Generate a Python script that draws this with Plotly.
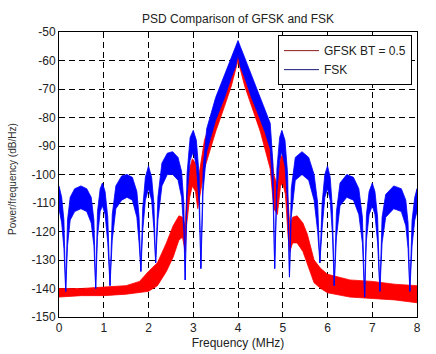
import plotly.graph_objects as go

# ---- data ----
# FSK PSD envelope (MHz, upper dB/Hz, lower dB/Hz)
fsk_f = [0.00, 0.06, 0.11, 0.15, 0.19, 0.25, 0.35, 0.49, 0.62, 0.72, 0.78, 0.82, 0.86, 0.92,
         0.97, 1.03, 1.09, 1.14, 1.19, 1.27, 1.40, 1.52, 1.64, 1.74, 1.79, 1.83, 1.87, 1.93,
         2.00, 2.07, 2.12, 2.16, 2.21, 2.30, 2.42, 2.54, 2.66, 2.74, 2.79, 2.82, 2.86, 2.93,
         3.00, 3.07, 3.13, 3.17, 3.22, 3.30, 3.50, 3.70, 3.85, 3.95, 4.00, 4.05, 4.15, 4.30,
         4.43, 4.60, 4.72, 4.78, 4.82, 4.87, 4.93, 4.98, 5.05, 5.11, 5.15, 5.19, 5.28, 5.43,
         5.58, 5.70, 5.78, 5.83, 5.88, 5.94, 6.00, 6.06, 6.11, 6.15, 6.20, 6.28, 6.43, 6.58,
         6.70, 6.78, 6.83, 6.87, 6.93, 7.00, 7.06, 7.12, 7.17, 7.22, 7.30, 7.48, 7.65, 7.75,
         7.80, 7.84, 7.89, 7.95, 8.00]
fsk_hi = [-104, -108, -116, -141, -116, -108, -105, -104, -105, -108, -116, -140, -113, -105,
          -103, -106, -115, -139, -114, -104, -100.5, -100, -101, -106, -115, -134, -112, -101,
          -97, -101, -110, -131, -108, -96, -92.5, -92, -94, -99, -110, -137, -100, -87,
          -84.5, -88, -100, -133, -98, -84, -73, -65, -59, -55, -53, -55, -59, -65,
          -70, -77, -82, -96, -133, -98, -87, -84.5, -88, -100, -136, -105, -94, -92,
          -94, -100, -110, -131, -110, -100, -97, -101, -112, -139, -113, -103, -100, -101,
          -105, -115, -143, -114, -106, -103, -106, -115, -141, -115, -107, -104, -105, -109,
          -117, -141, -116, -108, -105]
fsk_lo = [-112, -117, -126, -141, -125, -116, -113, -112, -113, -117, -125, -140, -122, -113,
          -111, -114, -124, -139, -123, -112, -109, -108, -109, -115, -124, -134, -120, -109,
          -105, -109, -119, -131, -116, -104, -100, -100, -102, -108, -120, -137, -108, -95,
          -92, -97, -110, -133, -106, -92, -81, -73, -66, -62, -58, -62, -66, -73,
          -78, -85, -91, -106, -133, -106, -95, -92, -97, -110, -136, -115, -102, -100,
          -102, -109, -120, -131, -119, -108, -105, -109, -121, -139, -122, -111, -108, -109,
          -114, -124, -143, -123, -114, -111, -114, -124, -141, -124, -115, -112, -113, -118,
          -126, -141, -125, -116, -113]

# GFSK BT = 0.5 PSD envelope
gfsk_f = [0.00, 0.50, 1.00, 1.50, 1.80, 2.00, 2.20, 2.40, 2.55, 2.68, 2.76, 2.82, 2.85, 2.92,
          2.98, 3.05, 3.10, 3.15, 3.25, 3.50, 3.70, 3.85, 3.95, 4.00, 4.05, 4.15, 4.30, 4.50,
          4.72, 4.80, 4.88, 4.95, 5.00, 5.06, 5.12, 5.16, 5.22, 5.32, 5.45, 5.55, 5.70, 5.85,
          6.00, 6.50, 7.00, 7.50, 8.00]
gfsk_hi = [-140, -140, -139.5, -139, -137.5, -134, -131, -124, -118, -114.5, -115, -118, -108, -98,
           -94.5, -96, -102, -98, -88, -76, -67, -61, -57, -55.5, -57, -61, -67, -76,
           -88, -100, -104, -94, -93, -97, -112, -118, -115, -114.5, -117, -121, -130, -133,
           -135, -137, -137.5, -138.5, -139]
gfsk_lo = [-143, -142.5, -142.5, -142, -141.5, -141, -139, -134, -129, -123, -122, -127, -118, -108,
           -104, -106, -112, -108, -98, -85, -76, -69, -63, -60, -63, -69, -76, -85,
           -98, -112, -114, -104, -103, -107, -122, -127, -124, -124, -127, -131, -138, -140,
           -141.5, -143, -143.5, -144, -145]

series_names = ["GFSK BT = 0.5", "FSK"]
series_colors = ["#ff0000", "#0000ff"]
legend_colors = ["#8b1a1a", "#1a1a7a"]

x_ticks = [0, 1, 2, 3, 4, 5, 6, 7, 8]
y_ticks = [-150, -140, -130, -120, -110, -100, -90, -80, -70, -60, -50]

FONT = "Arial, Liberation Sans, sans-serif"

fig = go.Figure()


def band(f, hi, lo, color):
    return go.Scatter(
        x=list(f) + list(f)[::-1],
        y=list(hi) + list(lo)[::-1],
        fill="toself", fillcolor=color, mode="lines",
        line=dict(color=color, width=0.8),
        showlegend=False, hoverinfo="skip")


fig.add_trace(band(gfsk_f, gfsk_hi, gfsk_lo, series_colors[0]))
fig.add_trace(band(fsk_f, fsk_hi, fsk_lo, series_colors[1]))

for name, col in zip(series_names, legend_colors):
    fig.add_trace(go.Scatter(x=[None], y=[None], mode="lines", name=name,
                             line=dict(color=col, width=1)))

axis_common = dict(
    showline=True, linecolor="black", linewidth=1, mirror=True,
    showgrid=True, gridcolor="black", gridwidth=1, griddash="6px,4px",
    zeroline=False, ticks="", tickfont=dict(family=FONT, size=12, color="#222"),
)

fig.update_layout(
    width=436, height=354,
    margin=dict(l=59, r=19, t=32, b=37, autoexpand=False),
    paper_bgcolor="white", plot_bgcolor="white",
    font=dict(family=FONT, size=12, color="#222"),
    title=dict(text="PSD Comparison of GFSK and FSK", x=0.546, xanchor="center",
               y=1 - 19 / 354, yanchor="middle", yref="container",
               font=dict(family=FONT, size=12, color="#222")),
    xaxis=dict(range=[0, 8], tickvals=x_ticks, ticktext=[str(v) for v in x_ticks],
               title=dict(text="Frequency (MHz)", standoff=4,
                          font=dict(family=FONT, size=12, color="#222")),
               **axis_common),
    yaxis=dict(range=[-150, -50], tickvals=y_ticks, ticktext=[str(v) for v in y_ticks],
               **axis_common),
    legend=dict(x=0.986, y=0.989, xanchor="right", yanchor="top",
                bgcolor="white", bordercolor="black", borderwidth=1,
                font=dict(family=FONT, size=12, color="#222"),
                itemwidth=35, tracegroupgap=0),
    showlegend=True,
    annotations=[dict(text="Power/frequency (dB/Hz)", xref="paper", yref="paper",
                      x=(12 - 59) / 358, y=1 - (179 - 32) / 285, showarrow=False,
                      textangle=-90, xanchor="center", yanchor="middle",
                      font=dict(family=FONT, size=10, color="#333"))],
)

fig.write_html("out.html")
